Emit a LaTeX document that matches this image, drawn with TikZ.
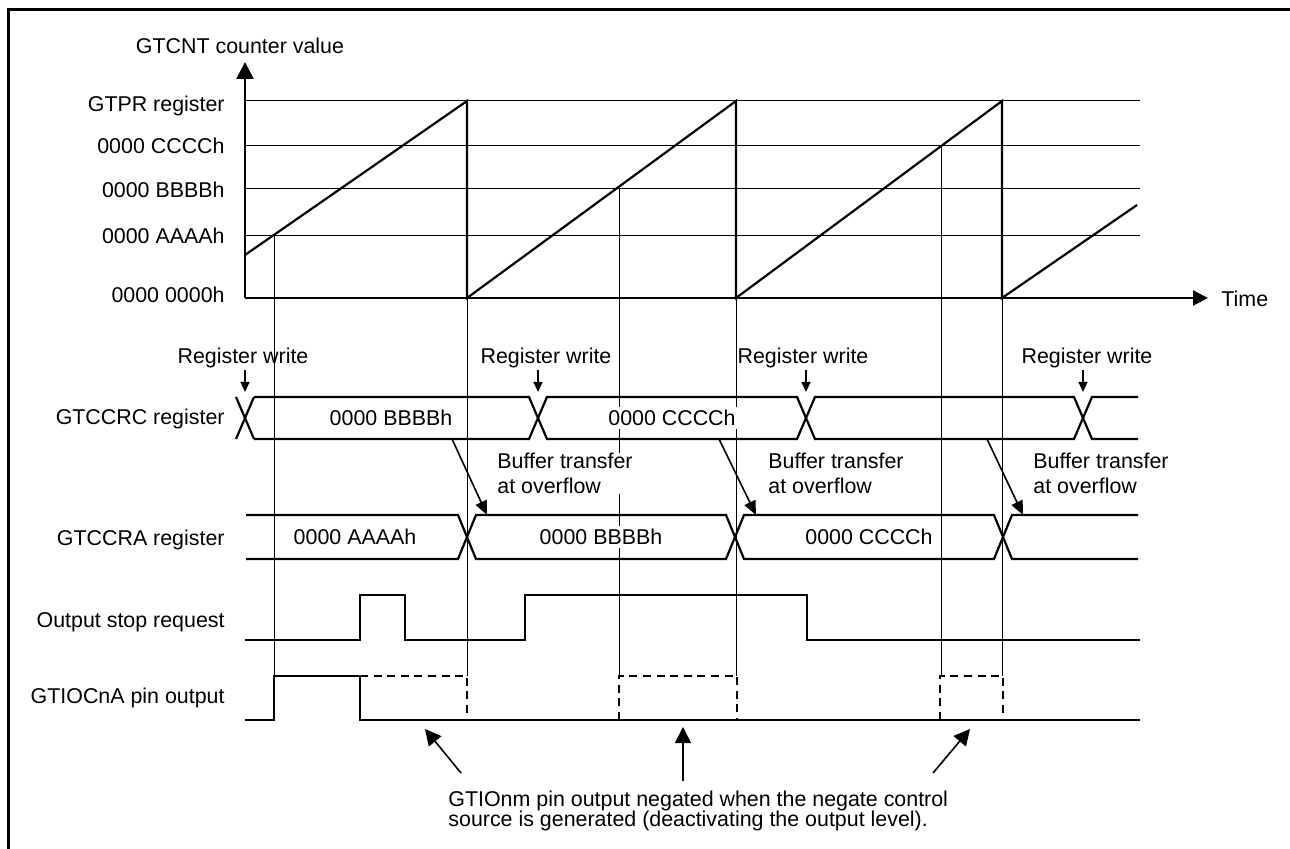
\documentclass[tikz,border=0pt]{standalone}
\usepackage{fontspec}
\setmainfont{Liberation Sans}
\usetikzlibrary{arrows.meta}

\begin{document}
\begin{tikzpicture}[x=0.5pt,y=-0.5pt,font=\fontsize{10.7}{12.5}\selectfont,
    sig/.style={line width=1.1pt},
    guide/.style={line width=0.5pt},
    negbox/.style={line width=1.1pt,dash pattern=on 4pt off 2.8pt},
    ylab/.style={anchor=base east,inner sep=0pt,yshift=-3.75pt},
    val/.style={anchor=base,fill=white,inner sep=1.5pt,yshift=-3.75pt},
    wrlab/.style={anchor=base,inner sep=0pt,yshift=-3.75pt},
    wrarrow/.style={-{Triangle[length=5pt,width=4.5pt]},line width=0.6pt},
    xfer/.style={-{Triangle[length=7pt,width=6pt]},line width=0.8pt},
    xfertext/.style={anchor=north west,align=left,inner sep=0pt,fill=white},
    notearrow/.style={-{Triangle[length=8pt,width=8pt]},line width=0.8pt}]
    \useasboundingbox (0,0) rectangle (1290,849);
    % frame
    \draw[line width=1.5pt] (8,860) -- (8,10) -- (1300,10);

    % guide lines
    \draw[guide] (274,236) -- (274,676);
    \draw[guide] (467,298) -- (467,676);
    \draw[guide] (619,189) -- (619,676);
    \draw[guide] (736,298) -- (736,676);
    \draw[guide] (941,146) -- (941,676);
    \draw[guide] (1002,298) -- (1002,676);

    % counter levels
    \draw[guide] (245,101) -- (1140,101);
    \draw[guide] (245,146) -- (1140,146);
    \draw[guide] (245,189) -- (1140,189);
    \draw[guide] (245,236) -- (1140,236);

    % axes
    \draw[sig,-{Triangle[length=8.5pt,width=8.5pt]}] (245,298) -- (245,62);
    \draw[sig,-{Triangle[length=7.5pt,width=7.5pt]}] (245,298) -- (1208,298);
    \node[wrlab] (ytitle) at (240,46) {GTCNT counter value};
    \node[anchor=base west,inner sep=0pt,yshift=-3.75pt] (xtitle) at (1221,299) {Time};

    \node[ylab] (lGTPR) at (225,104) {GTPR register};
    \node[ylab] (lCCCC) at (225,146) {0000 CCCCh};
    \node[ylab] (lBBBB) at (225,190) {0000 BBBBh};
    \node[ylab] (lAAAA) at (225,236) {0000 AAAAh};
    \node[ylab] (lZero) at (225,295) {0000 0000h};

    % counter
    \draw[sig] (245,255) -- (467,101) -- (467,298) -- (736,101) -- (736,298)
      -- (1002,101) -- (1002,298) -- (1137,205);

    % register writes
    \node[wrlab] (wr1) at (243,356) {Register write};
    \node[wrlab] (wr2) at (546,356) {Register write};
    \node[wrlab] (wr3) at (803,356) {Register write};
    \node[wrlab] (wr4) at (1087,356) {Register write};
    \draw[wrarrow] (245,370) -- (245,392);
    \draw[wrarrow] (538,370) -- (538,392);
    \draw[wrarrow] (806,370) -- (806,392);
    \draw[wrarrow] (1083,370) -- (1083,392);

    % GTCCRC
    \node[ylab] (lCRC) at (225,417) {GTCCRC register};
    \draw[sig] (236,397) -- (254,439) (236,439) -- (254,397);
    \draw[sig] (254,397) -- (529,397) -- (547,439) -- (797,439) -- (815,397)
      -- (1074,397) -- (1092,439) -- (1138,439);
    \draw[sig] (254,439) -- (529,439) -- (547,397) -- (797,397) -- (815,439)
      -- (1074,439) -- (1092,397) -- (1138,397);
    \node[val] (crcB) at (391,418) {0000 BBBBh};
    \node[val] (crcC) at (672,418) {0000 CCCCh};

    % buffer transfers
    \draw[xfer] (452,439) -- (487,515);
    \draw[xfer] (719,439) -- (756,515);
    \draw[xfer] (987,439) -- (1023,515);
    \node[xfertext] (bt1) at (497,453) {Buffer transfer\\at overflow};
    \node[xfertext] (bt2) at (768,453) {Buffer transfer\\at overflow};
    \node[xfertext] (bt3) at (1033,453) {Buffer transfer\\at overflow};

    % GTCCRA
    \node[ylab] (lCRA) at (225,538) {GTCCRA register};
    \draw[sig] (246,515) -- (458,515) -- (476,559) -- (726,559) -- (744,515)
      -- (994,515) -- (1012,559) -- (1138,559);
    \draw[sig] (246,559) -- (458,559) -- (476,515) -- (726,515) -- (744,559)
      -- (994,559) -- (1012,515) -- (1138,515);
    \node[val] (craA) at (355,537) {0000 AAAAh};
    \node[val] (craB) at (601,537) {0000 BBBBh};
    \node[val] (craC) at (869,537) {0000 CCCCh};

    % output stop request
    \node[ylab] (lStop) at (225,620) {Output stop request};
    \draw[sig] (245,640) -- (360,640) -- (360,595) -- (405,595) -- (405,640)
      -- (525,640) -- (525,595) -- (807,595) -- (807,640) -- (1140,640);

    % pin output
    \node[ylab] (lPin) at (225,696) {GTIOCnA pin output};
    \draw[sig] (245,720) -- (274,720) -- (274,676) -- (360,676) -- (360,720)
      -- (1140,720);
    \draw[negbox] (360,676) -- (467,676) -- (467,720);
    \draw[negbox] (619,720) -- (619,676) -- (737,676) -- (737,720);
    \draw[negbox] (940,720) -- (940,676) -- (1003,676) -- (1003,720);

    % negate note
    \node[anchor=north west,align=left,inner sep=0pt,
          font=\fontsize{10.7}{10}\selectfont] (note) at (448,791)
      {GTIOnm pin output negated when the negate control\\
       source is generated (deactivating the output level).};
    \coordinate (tailA) at (461,773);
    \coordinate (tailB) at (683,781);
    \coordinate (tailC) at (933,773);
    \coordinate (tipA) at (425,729);
    \coordinate (tipB) at (683,727);
    \coordinate (tipC) at (970,729);
    \draw[notearrow] (tailA) -- (tipA);
    \draw[notearrow] (tailB) -- (tipB);
    \draw[notearrow] (tailC) -- (tipC);
  \end{tikzpicture}
\end{document}
